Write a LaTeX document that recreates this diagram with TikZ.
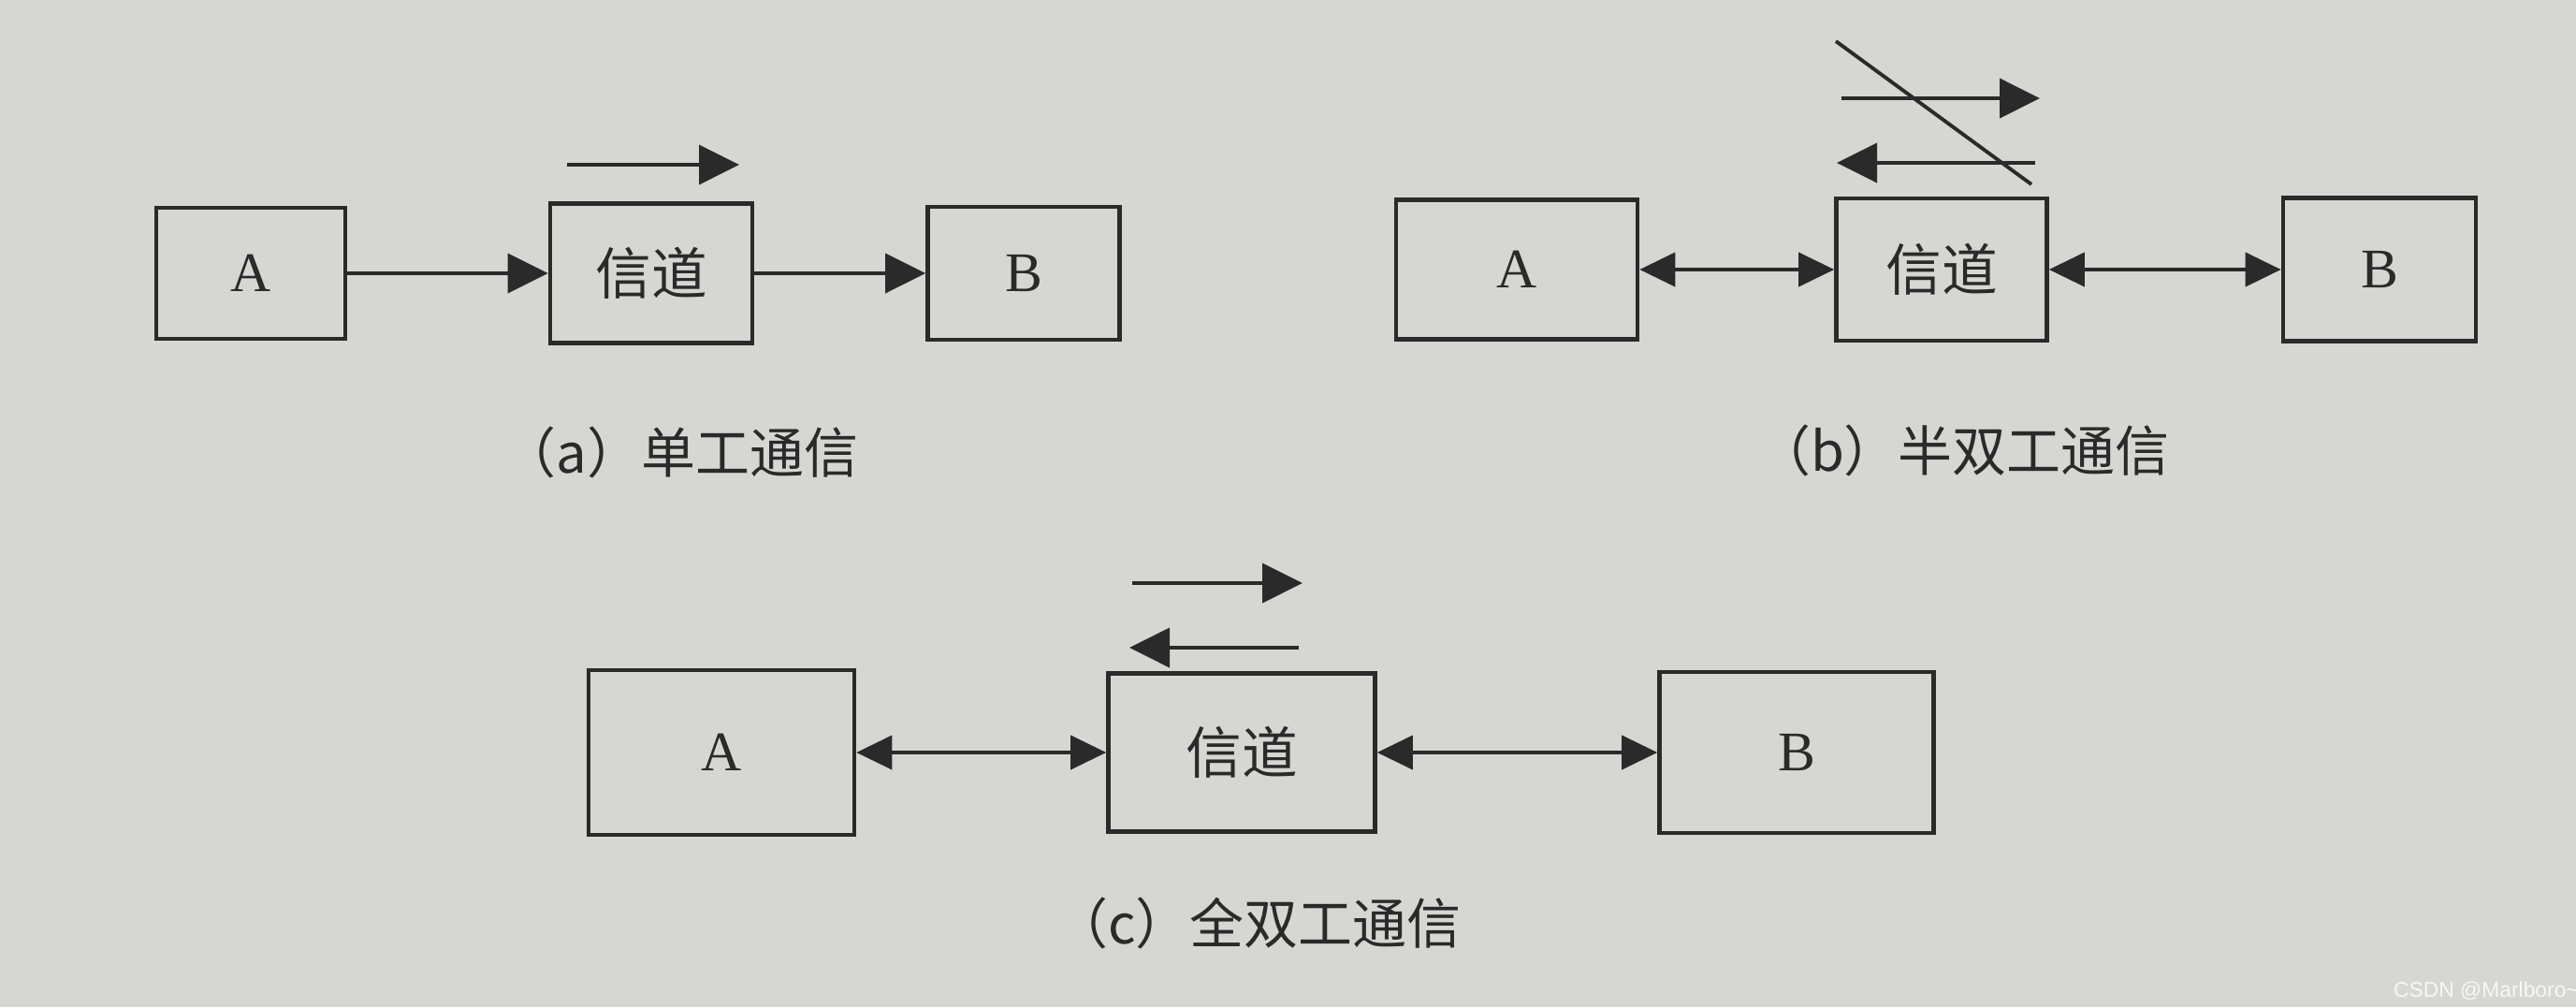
\documentclass[tikz,border=0pt]{standalone}
\usepackage{fontspec}
\setmainfont{Liberation Serif}
\newfontfamily\cjk{Noto Sans CJK SC}
\newfontfamily\marksans{Liberation Sans}
\usetikzlibrary{arrows.meta}
\definecolor{PaperGray}{HTML}{D6D6D3}
\definecolor{InkDark}{HTML}{2A2A2A}

\begin{document}
\begin{tikzpicture}[
    box/.style={rectangle, draw=InkDark, line width=1.3pt, inner sep=0pt,
                font=\fontsize{17}{17}\selectfont, text=InkDark},
    chan/.style={box, font=\cjk\fontsize{17}{17}\selectfont},
    arrow/.style={-{Triangle[length=0.43cm, width=0.42cm]}, line width=1.1pt, color=InkDark},
    biarrow/.style={{Triangle[length=0.38cm, width=0.36cm]}-{Triangle[length=0.38cm, width=0.36cm]},
                    line width=1.1pt, color=InkDark},
    caption/.style={font=\cjk\fontsize{16.5}{16.5}\selectfont, text=InkDark}
]
    \fill[PaperGray] (0,0) rectangle (27.53,-10.76);
    \useasboundingbox (0,0) rectangle (27.53,-10.76);

    % (a) simplex
    \node[box, minimum width=2.02cm, minimum height=1.40cm] (a1) at (2.68,-2.92) {A};
    \node[chan, minimum width=2.16cm, minimum height=1.49cm] (a2) at (6.96,-2.92) {信道};
    \node[box, minimum width=2.05cm, minimum height=1.42cm] (a3) at (10.94,-2.92) {B};
    \draw[arrow] (a1) -- (a2);
    \draw[arrow] (a2) -- (a3);
    \coordinate (as) at (6.06,-1.76);
    \coordinate (ae) at (7.90,-1.76);
    \draw[arrow] (as) -- (ae);
    \node[caption] (capa) at (7.27,-4.83) {（a）单工通信};

    % (b) half duplex
    \node[box, minimum width=2.58cm, minimum height=1.49cm] (b1) at (16.21,-2.88) {A};
    \node[chan, minimum width=2.25cm, minimum height=1.52cm] (b2) at (20.75,-2.88) {信道};
    \node[box, minimum width=2.06cm, minimum height=1.53cm] (b3) at (25.43,-2.88) {B};
    \draw[biarrow] (b1) -- (b2);
    \draw[biarrow] (b2) -- (b3);
    \coordinate (bt1) at (19.68,-1.05);
    \coordinate (bt2) at (21.80,-1.05);
    \coordinate (bb1) at (21.75,-1.74);
    \coordinate (bb2) at (19.63,-1.74);
    \coordinate (bx1) at (19.62,-0.44);
    \coordinate (bx2) at (21.71,-1.97);
    \draw[arrow] (bt1) -- (bt2);
    \draw[arrow] (bb1) -- (bb2);
    \draw[line width=1.1pt, InkDark] (bx1) -- (bx2);
    \node[caption] (capb) at (20.98,-4.81) {（b）半双工通信};

    % (c) full duplex
    \node[box, minimum width=2.84cm, minimum height=1.76cm] (c1) at (7.71,-8.04) {A};
    \node[chan, minimum width=2.85cm, minimum height=1.69cm] (c2) at (13.27,-8.04) {信道};
    \node[box, minimum width=2.93cm, minimum height=1.72cm] (c3) at (19.20,-8.04) {B};
    \draw[biarrow] (c1) -- (c2);
    \draw[biarrow] (c2) -- (c3);
    \coordinate (ct1) at (12.10,-6.23);
    \coordinate (ct2) at (13.92,-6.23);
    \coordinate (cb1) at (13.88,-6.92);
    \coordinate (cb2) at (12.07,-6.92);
    \draw[arrow] (ct1) -- (ct2);
    \draw[arrow] (cb1) -- (cb2);
    \node[caption] (capc) at (13.44,-9.86) {（c）全双工通信};

    \node[font=\marksans\fontsize{6.5}{6.5}\selectfont, text=white!80!PaperGray] (mark) at (26.57,-10.585) {CSDN @Marlboro\textasciitilde};
\end{tikzpicture}
\end{document}
